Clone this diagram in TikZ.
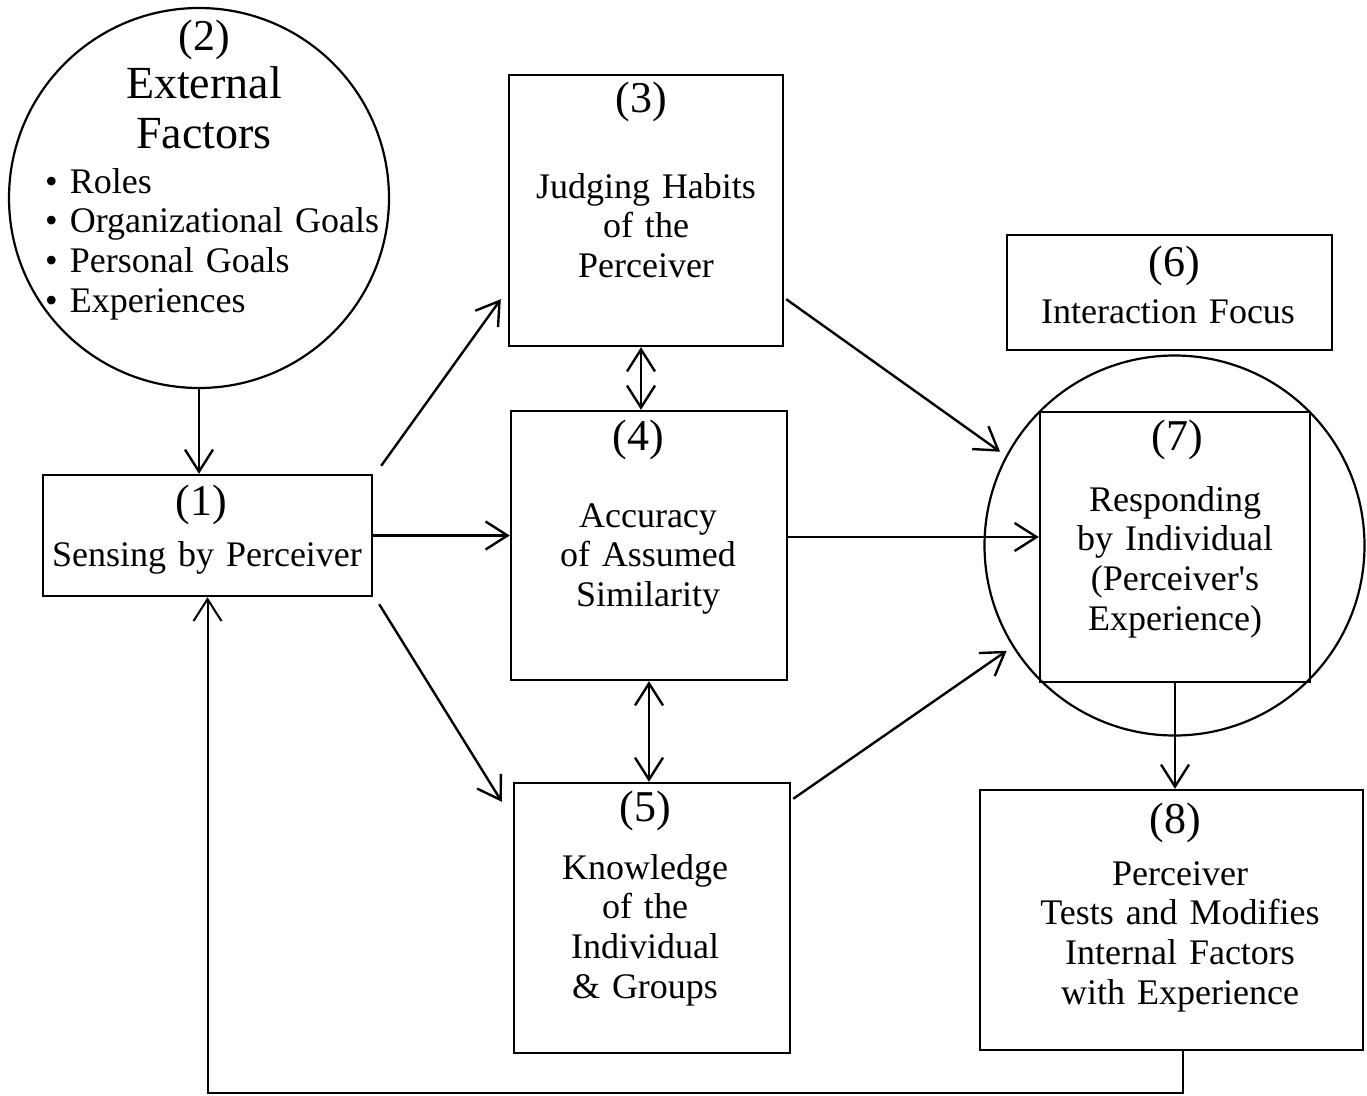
\documentclass[tikz,border=0pt]{standalone}
\usepackage{fontspec}
\setmainfont{Liberation Serif}
\usetikzlibrary{arrows.meta}
\newcommand\numfont{\fontsize{44}{48}\selectfont}
\newcommand\bodyfont{\fontsize{36}{39.7}\selectfont}
\newcommand\headfont{\fontsize{46}{50}\selectfont}

\begin{document}
\begin{tikzpicture}[x=1pt,y=-1pt,
  >={Straight Barb[length=22pt,width=28pt]},
  frame/.style={draw, line width=2.4pt, inner sep=0pt},
  ring/.style={draw, circle, line width=2.2pt, inner sep=0pt, minimum size=380pt},
  arr/.style={->, line width=2.4pt},
  darr/.style={<->, line width=2.4pt},
  num/.style={font=\numfont, inner sep=0pt, anchor=base},
  body/.style={font=\bodyfont, inner sep=0pt, anchor=base, align=center, text width=330pt},
  head/.style={font=\headfont, inner sep=0pt, anchor=base, align=center, text width=330pt},
  list/.style={font=\bodyfont, inner sep=0pt, anchor=base west, align=left, text width=345pt}]

\useasboundingbox (0,0) rectangle (1367,1095);

% circles
\node[ring] (c2) at (199,198) {};
\node[ring] (c7) at (1174.5,545.5) {};

% boxes
\node[frame, minimum width=329pt, minimum height=121pt] (b1) at (207.5,535.5) {};
\node[frame, minimum width=274pt, minimum height=271pt] (b3) at (646,210.5) {};
\node[frame, minimum width=276pt, minimum height=269pt] (b4) at (649,545.5) {};
\node[frame, minimum width=276pt, minimum height=270pt] (b5) at (652,918) {};
\node[frame, minimum width=325pt, minimum height=115pt] (b6) at (1169.5,292.5) {};
\node[frame, minimum width=270pt, minimum height=270pt] (b7) at (1175,547) {};
\node[frame, minimum width=383pt, minimum height=260pt] (b8) at (1171.5,920) {};

% texts
\node[num] (n2) at (204,50) {(2)};
\node[head] (h2) at (204,98) {External\\Factors};
\node[list] (l2) at (45,193) {\textbullet\ Roles\\\textbullet\ Organizational Goals\\\textbullet\ Personal Goals\\\textbullet\ Experiences};

\node[num] (n1) at (201,515) {(1)};
\node[body] (t1) at (207,566) {Sensing by Perceiver};

\node[num] (n3) at (641,112) {(3)};
\node[body] (t3) at (646,198) {Judging Habits\\of the\\Perceiver};

\node[num] (n4) at (638,450) {(4)};
\node[body] (t4) at (648,527) {Accuracy\\of Assumed\\Similarity};

\node[num] (n5) at (645,821) {(5)};
\node[body] (t5) at (645,879) {Knowledge\\of the\\Individual\\\& Groups};

\node[num] (n6) at (1174,276) {(6)};
\node[body] (t6) at (1168,323) {Interaction Focus};

\node[num] (n7) at (1177,450) {(7)};
\node[body] (t7) at (1175,511) {Responding\\by Individual\\(Perceiver\textquotesingle s\\Experience)};

\node[num] (n8) at (1175,833) {(8)};
\node[body] (t8) at (1180,885) {Perceiver\\Tests and Modifies\\Internal Factors\\with Experience};

% connectors
\draw[arr] (c2.south) -- (c2.south |- b1.north);
\draw[arr] ([shift={(8,-8)}]b1.north east) -- ([shift={(-7,-48)}]b3.south west);
\draw[arr] (b1.east) -- (b1.east -| b4.west);
\draw[arr] ([shift={(6,7)}]b1.south east) -- ([shift={(-11,20)}]b5.north west);
\draw[darr] ([shift={(-5,0)}]b3.south) -- ([shift={(-5,0)}]b3.south |- b4.north);
\draw[darr] (b4.south) -- (b4.south |- b5.north);
\draw[arr, shorten >=7pt] ([shift={(2,-48)}]b3.south east) -- (c7.152);
\draw[arr] ([shift={(0,-8.5)}]b4.east) -- ([shift={(0,-8.5)}]b4.east -| b7.west);
\draw[arr, shorten >=7pt] ([shift={(2,17)}]b5.north east) -- (c7.212);
\draw[arr] (b7.south) -- (b7.south |- b8.north);
\coordinate (loop) at (b1.south |- 0,1093);
\draw[arr, line width=2pt] ([shift={(11.5,0)}]b8.south) |- (loop) -- (b1.south);

\end{tikzpicture}
\end{document}
